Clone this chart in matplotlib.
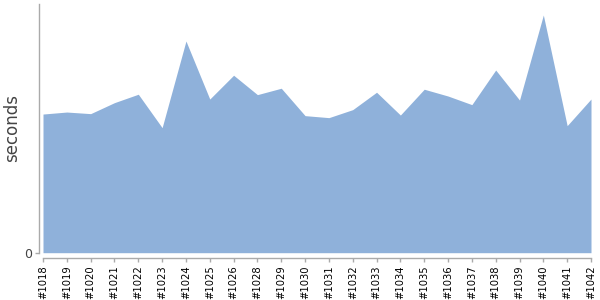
import numpy as np
import matplotlib.pyplot as plt

# build numbers (#1027 is missing in the trend)
builds = ["#1018", "#1019", "#1020", "#1021", "#1022", "#1023", "#1024", "#1025",
          "#1026", "#1028", "#1029", "#1030", "#1031", "#1032", "#1033", "#1034",
          "#1035", "#1036", "#1037", "#1038", "#1039", "#1040", "#1041", "#1042"]

# build duration in seconds
durations = [69.3, 70.3, 69.5, 75.0, 79.2, 62.5, 105.8, 76.8,
             88.7, 79.0, 82.2, 68.5, 67.5, 71.5, 80.2, 68.8,
             81.7, 78.3, 74.0, 91.3, 76.3, 118.8, 63.5, 76.8]

fill_color = "#8fb1da"
axis_color = "#aaaaaa"

fig = plt.figure(figsize=(6, 3), dpi=100)
ax = fig.add_axes([43 / 600, 47.3 / 300, 548 / 600, 248.7 / 300])

# spines first: moving them resets the tick labels
for side in ["top", "right"]:
    ax.spines[side].set_visible(False)
ax.spines["left"].set_position(("outward", 3))
ax.spines["bottom"].set_position(("outward", 4))
for side in ["left", "bottom"]:
    ax.spines[side].set_color(axis_color)
    ax.spines[side].set_linewidth(1)

x = np.arange(len(builds))
ax.fill_between(x, 0, durations, color=fill_color, linewidth=0)

ax.set_xlim(0, len(builds) - 1)
ax.set_ylim(0, 124.3)

ax.set_xticks(x)
ax.set_xticklabels(builds, rotation=90, fontsize=7.2)
ax.set_yticks([0])
ax.set_yticklabels(["0"], fontsize=9, color="#444444")
ax.set_ylabel("seconds", fontsize=12, color="#444444", va="center")
ax.yaxis.set_label_coords(-0.057, 0.5)

ax.tick_params(axis="both", color=axis_color, length=3, width=1, pad=2)

fig.savefig("out.png", dpi=100)
